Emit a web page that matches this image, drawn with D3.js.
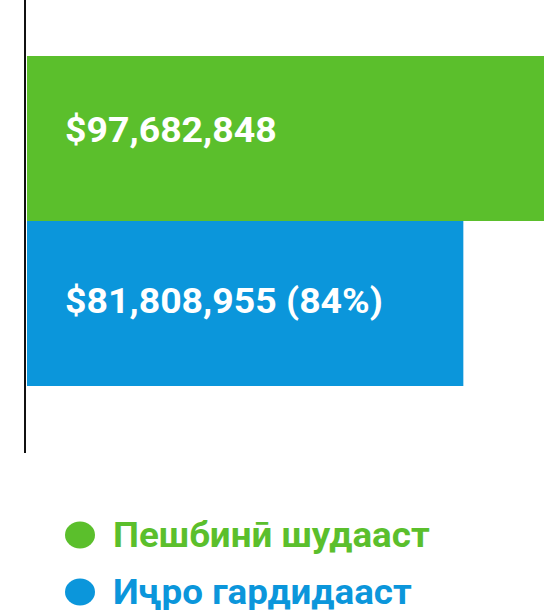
<!DOCTYPE html>
<html>
<head>
<meta charset="utf-8">
<script src="https://cdn.jsdelivr.net/npm/d3@7"></script>
<style>
  body { margin: 0; background: #fff; }
  svg { display: block; font-family: Roboto, "Noto Sans", sans-serif; }
</style>
</head>
<body>
<svg id="chart" width="544" height="610"></svg>
<script>
const categories = ["Пешбинӣ шудааст", "Иҷро гардидааст"];
const values = [97682848, 81808955];
const colors = ["#5bbf2c", "#0b96db"];

const width = 544, height = 610;
const left = 27;

const svg = d3.select("#chart");

const x = d3.scaleLinear()
  .domain([0, values[0]])
  .range([left, left + 521]);

const y = d3.scaleBand()
  .domain(categories)
  .range([56, 386])
  .padding(0);

const fmt = d3.format("$,");

// bars
svg.selectAll("rect.bar")
  .data(categories)
  .enter()
  .append("rect")
  .attr("class", "bar")
  .attr("x", x(0))
  .attr("y", d => y(d))
  .attr("width", (d, i) => x(values[i]) - x(0))
  .attr("height", y.bandwidth())
  .attr("fill", (d, i) => colors[i]);

// value labels (first one sits a bit higher in the original)
svg.selectAll("text.val")
  .data(categories)
  .enter()
  .append("text")
  .attr("class", "val")
  .attr("transform", (d, i) => `translate(${x(0) + 38}, ${y(d) + (i === 0 ? 86 : 92)}) scale(1.07, 1)`)
  .attr("fill", "#fff")
  .attr("font-size", 35)
  .attr("font-weight", "bold")
  .text((d, i) => i === 0 ? fmt(values[i]) : `${fmt(values[i])} (${Math.round(values[i] / values[0] * 100)}%)`);

// vertical axis line
svg.append("line")
  .attr("x1", 25).attr("x2", 25)
  .attr("y1", 0).attr("y2", 453)
  .attr("stroke", "#111")
  .attr("stroke-width", 2);

// legend
const legend = svg.append("g")
  .selectAll("g")
  .data(categories)
  .enter()
  .append("g")
  .attr("transform", (d, i) => `translate(80, ${535 + i * 57})`);

legend.append("ellipse")
  .attr("rx", 15)
  .attr("ry", 13.5)
  .attr("fill", (d, i) => colors[i]);

legend.append("text")
  .attr("transform", "translate(33, 12) scale(1.05, 1)")
  .attr("font-size", 35)
  .attr("font-weight", "bold")
  .attr("fill", (d, i) => colors[i])
  .text(d => d);
</script>
</body>
</html>
